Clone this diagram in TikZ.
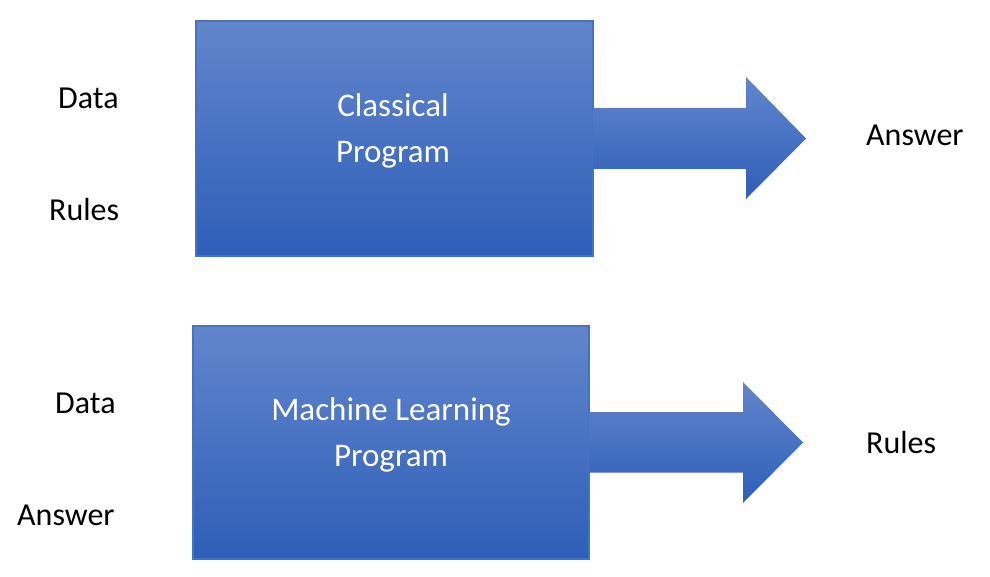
\documentclass[tikz,border=0pt]{standalone}
\usepackage{fontspec}
\setmainfont{Carlito}
\definecolor{gtop}{RGB}{98,134,204}
\definecolor{gbot}{RGB}{46,94,184}
\definecolor{gedge}{RGB}{68,114,196}
\begin{document}
\begin{tikzpicture}[x=1pt,y=-1pt,
  progbox/.style={draw=gedge,line width=1.5pt,top color=gtop,bottom color=gbot,
    inner sep=0pt,outer sep=0pt,anchor=north west},
  blockarrow/.style={top color=gtop,bottom color=gbot,draw=none},
  lbl/.style={font=\fontsize{32}{38}\selectfont,text=black,inner sep=0pt},
  boxtxt/.style={font=\fontsize{33}{46}\selectfont,text=white,align=center,inner sep=0pt}]
\useasboundingbox (0,0) rectangle (990,577);
% top program
\node[progbox,minimum width=397pt,minimum height=235pt] (b1) at (196,21) {};
\shade[blockarrow] (b1.east) ++(0,-30.5) -- ++(153,0) -- ++(0,-31) -- ++(60,61.5)
  -- ++(-60,60.5) -- ++(0,-30) -- ++(-153,0) -- cycle;
\node[boxtxt,anchor=base] (t1) at (393,163) {Classical\\Program};
\node[lbl,anchor=base west] (d1) at (58,109) {Data};
\node[lbl,anchor=base west] (r1) at (49,221) {Rules};
\node[lbl,anchor=base west] (a1) at (866,146) {Answer};
% bottom program
\node[progbox,minimum width=396pt,minimum height=233pt] (b2) at (193,326) {};
\shade[blockarrow] (b2.east) ++(0,-30.5) -- ++(154,0) -- ++(0,-30) -- ++(60,60.5)
  -- ++(-60,60.5) -- ++(0,-30.5) -- ++(-154,0) -- cycle;
\node[boxtxt,anchor=base] (t2) at (391,466) {Machine Learning\\Program};
\node[lbl,anchor=base west] (d2) at (55,413) {Data};
\node[lbl,anchor=base west] (a2) at (17,525) {Answer};
\node[lbl,anchor=base west] (r2) at (866,453) {Rules};
\end{tikzpicture}
\end{document}
